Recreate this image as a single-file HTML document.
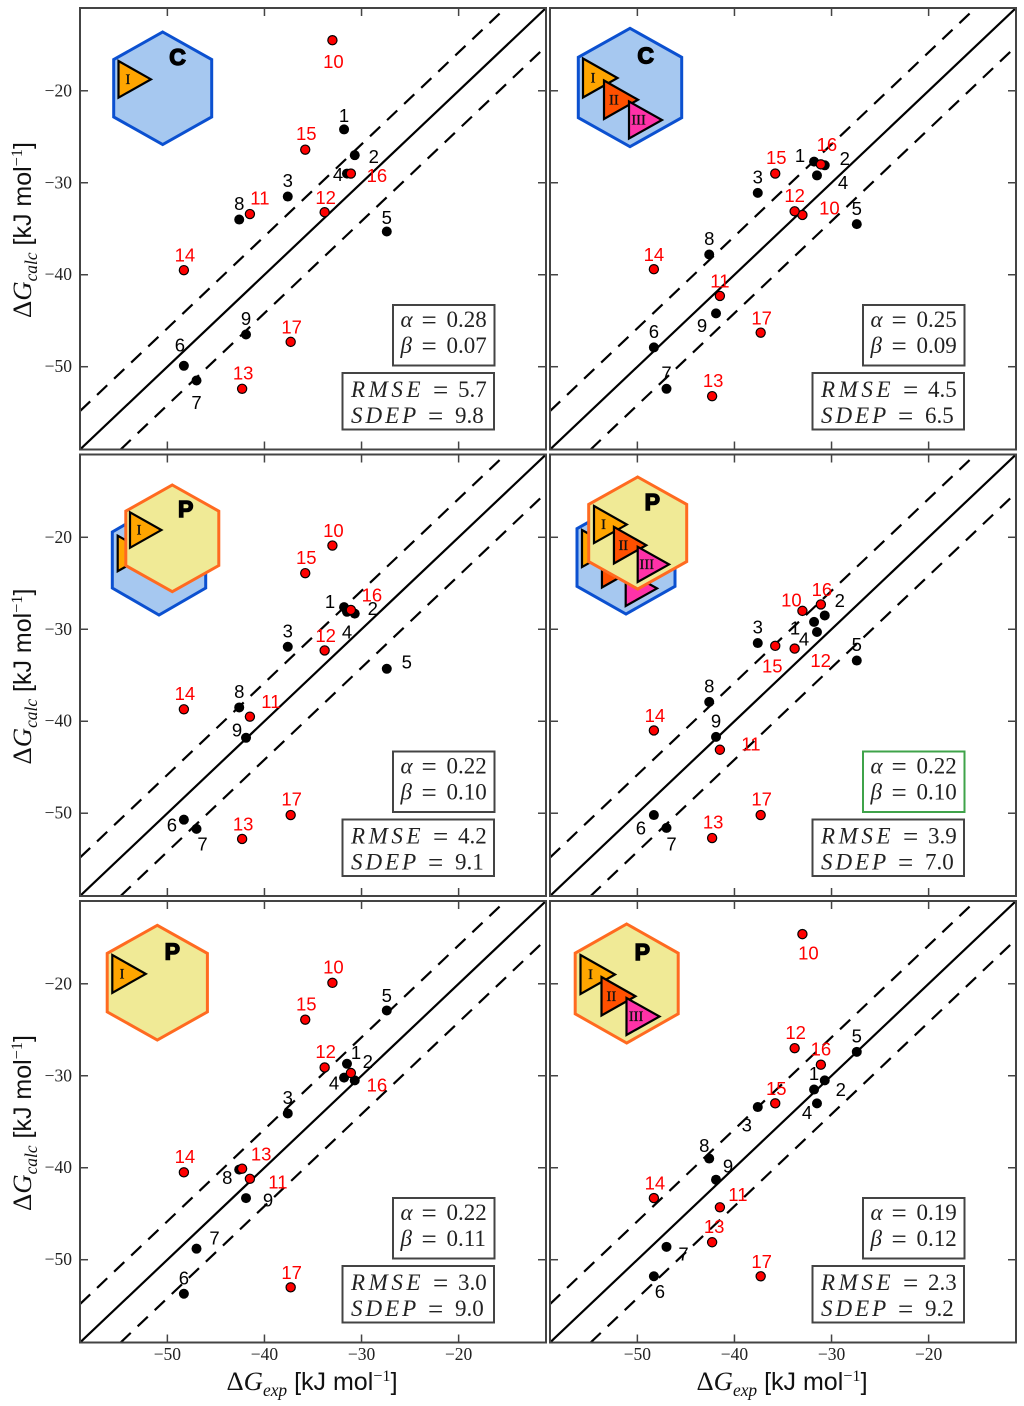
<!DOCTYPE html>
<html>
<head>
<meta charset="utf-8">
<style>
html,body{margin:0;padding:0;background:#fff;}
svg{display:block;}
</style>
</head>
<body>
<svg id="chart" xmlns="http://www.w3.org/2000/svg" width="1024" height="1406" viewBox="0 0 1024 1406"></svg>
<script>
// ---- data ----
const compoundLabels = ['1','2','3','4','5','6','7','8','9','10','11','12','13','14','15','16','17'];
const expValues = [-31.8,-30.7,-37.6,-31.5,-27.4,-48.3,-47.0,-42.6,-41.9,-33.0,-41.5,-33.8,-42.3,-48.3,-35.8,-31.1,-37.3];
const calcPanelA = [-24.2,-27.0,-31.5,-29.0,-35.3,-49.9,-51.5,-34.0,-46.5,-14.5,-33.4,-33.2,-52.4,-39.5,-26.4,-29.0,-47.3];
const calcPanelB = [-27.7,-28.1,-31.1,-29.2,-34.5,-47.9,-52.4,-37.8,-44.2,-33.5,-42.3,-33.1,-53.2,-39.4,-29.0,-28.0,-46.3];
const calcPanelC = [-27.6,-28.3,-31.9,-28.1,-34.3,-50.7,-51.7,-38.5,-41.8,-20.9,-39.5,-32.3,-52.8,-38.7,-23.9,-27.9,-50.2];
const calcPanelD = [-29.2,-28.5,-31.5,-30.3,-33.4,-50.2,-51.6,-37.9,-41.7,-28.0,-43.1,-32.1,-52.7,-41.0,-31.8,-27.3,-50.2];
const calcPanelE = [-30.2,-30.5,-34.1,-28.7,-22.9,-53.7,-48.8,-40.2,-43.3,-19.9,-41.2,-29.1,-40.1,-40.5,-23.9,-29.7,-53.0];
const calcPanelF = [-31.5,-30.5,-33.4,-33.0,-27.4,-51.8,-48.6,-39.0,-41.3,-14.6,-44.3,-27.0,-48.1,-43.3,-33.0,-28.8,-51.8];
const alphaValues = ['0.28','0.25','0.22','0.22','0.22','0.19'];
const betaValues = ['0.07','0.09','0.10','0.10','0.11','0.12'];
const rmseValues = ['5.7','4.5','4.2','3.9','3.0','2.3'];
const sdepValues = ['9.8','6.5','9.1','7.0','9.0','9.2'];
const xTickValues = [-50,-40,-30,-20];
const yTickValues = [-20,-30,-40,-50];
const toleranceBand = 4.18;

// ---- label nudges relative to each point (layout, not data) ----
const nudgeA = [[0,-14],[19,1],[0,-16],[-9,1],[0,-14],[-4,-21],[0,22],[0,-16],[0,-16],[1,21],[10,-16],[1,-15],[1,-16],[1,-15],[1,-16],[26,2],[1,-15]];
const nudgeB = [[-14,-6],[20,-7],[0,-16],[26,7],[0,-16],[0,-16],[0,-16],[0,-16],[-14,12],[27,-7],[0,-15],[0,-16],[1,-16],[0,-15],[1,-16],[6,-20],[1,-15]];
const nudgeC = [[-14,-6],[18,-5],[0,-16],[0,20],[20,-7],[-12,5],[6,15],[0,-16],[-9,-8],[1,-15],[21,-15],[1,-15],[1,-15],[1,-16],[1,-16],[21,-15],[1,-16]];
const nudgeD = [[-19,6],[15,-15],[0,-16],[-13,7],[0,-16],[-13,13],[5,16],[0,-16],[0,-16],[-11,-11],[31,-6],[26,12],[1,-16],[1,-15],[-3,20],[1,-15],[1,-16]];
const nudgeE = [[12,-25],[13,-19],[0,-16],[-13,19],[0,-15],[0,-16],[18,-11],[-12,8],[22,2],[1,-16],[28,3],[1,-16],[19,-15],[1,-16],[1,-16],[26,12],[1,-15]];
const nudgeF = [[0,-16],[16,9],[-11,18],[-10,9],[0,-16],[6,15],[17,7],[-5,-13],[12,-14],[6,19],[18,-13],[1,-16],[2,-16],[1,-15],[1,-15],[0,-16],[1,-15]];

const calcByPanel = [calcPanelA,calcPanelB,calcPanelC,calcPanelD,calcPanelE,calcPanelF];
const nudgeByPanel = [nudgeA,nudgeB,nudgeC,nudgeD,nudgeE,nudgeF];
const panelNames = ['cavity-one-site','cavity-three-sites','pore-cavity-one-site','pore-cavity-three-sites','pore-one-site','pore-three-sites'];

const PLOT_W = 466, PLOT_H = 441.5;
const DOMAIN_MIN = -59, DOMAIN_MAX = -11;
const colLefts = [80, 550];
const rowTops = [8, 454.5, 901];
const SVGNS = 'http://www.w3.org/2000/svg';
const SERIF = '"Liberation Serif", serif';
const SANS = '"Liberation Sans", sans-serif';
const root = document.getElementById('chart');

function xAxis(left, v){ return left + (v - DOMAIN_MIN) * PLOT_W / (DOMAIN_MAX - DOMAIN_MIN); }
function yAxis(top, v){ return top + (DOMAIN_MAX - v) * PLOT_H / (DOMAIN_MAX - DOMAIN_MIN); }

function make(tag, parent, name, props){
  const el = document.createElementNS(SVGNS, tag);
  
  
  for (const k in props) el.setAttribute(k, props[k]);
  parent.appendChild(el);
  return el;
}
function span(parent, text, props){
  const t = document.createElementNS(SVGNS, 'tspan');
  for (const k in props) t.setAttribute(k, props[k]);
  t.textContent = text;
  parent.appendChild(t);
  return t;
}

function hexagon(parent, name, kind, cx, topY, halfW, h){
  const q = h * 0.245;
  const pts = [[cx,topY],[cx+halfW,topY+q],[cx+halfW,topY+h-q],[cx,topY+h],[cx-halfW,topY+h-q],[cx-halfW,topY+q]]
    .map(p => p.join(',')).join(' ');
  make('polygon', parent, name, {
    points: pts,
    fill: kind === 'C' ? '#a6c8f0' : '#f0ea96',
    stroke: kind === 'C' ? '#0b50d0' : '#ff6a20',
    'stroke-width': 3, 'stroke-linejoin': 'miter'
  });
}
function triangle(parent, name, label, color, x, y, w, h, showLabel){
  make('polygon', parent, name, {
    points: [x,y, x+w,y+h*0.5, x,y+h].join(' '),
    fill: color, stroke: '#000', 'stroke-width': 2.2, 'stroke-linejoin': 'miter'
  });
  if (!showLabel) return;
  const t = make('text', parent, name + '-label', {
    x: x + w*0.29, y: y + h*0.5 + 4.7,
    'text-anchor': 'middle', 'font-family': SERIF, 'font-size': 14.5,
    fill: '#111', stroke: '#111', 'stroke-width': 0.35
  });
  t.textContent = label;
}
function letter(parent, name, txt, x, y){
  const t = make('text', parent, name, {
    x: x, y: y, 'text-anchor': 'middle', 'font-family': SANS, 'font-size': 23, 'font-weight': 'bold',
    fill: '#000', stroke: '#000', 'stroke-width': 1.4
  });
  t.textContent = txt;
}
function triSet(parent, prefix, count, x0, y0, s, showLabel){
  triangle(parent, prefix + '-triangle-i', 'I', '#ffa500', x0, y0, 34.5*s, 39*s, showLabel);
  if (count === 3){
    triangle(parent, prefix + '-triangle-ii', 'II', '#ff5000', x0+21*s, y0+22*s, 34*s, 38.5*s, showLabel);
    triangle(parent, prefix + '-triangle-iii', 'III', '#ff32a8', x0+46*s, y0+43*s, 33*s, 37*s, showLabel);
  }
}

function drawInset(i, g){
  if (i === 0){
    hexagon(g, 'cavity-hexagon', 'C', 162.7, 32, 49, 112.5);
    triSet(g, 'cavity', 1, 118.5, 61, 0.94, true);
    letter(g, 'cavity-letter', 'C', 177.5, 65);
  } else if (i === 1){
    hexagon(g, 'cavity-hexagon', 'C', 630, 28.3, 51.7, 118.4);
    triSet(g, 'cavity', 3, 583, 58.5, 1, true);
    letter(g, 'cavity-letter', 'C', 645.7, 63.5);
  } else if (i === 2){
    hexagon(g, 'cavity-hexagon', 'C', 159, 505, 46.7, 110);
    triSet(g, 'cavity-behind', 1, 117.7, 535.7, 0.91, false);
    hexagon(g, 'pore-hexagon', 'P', 172.3, 485, 46.5, 106.7);
    triSet(g, 'pore', 1, 130, 512.3, 0.91, true);
    letter(g, 'pore-letter', 'P', 185.7, 517);
  } else if (i === 3){
    hexagon(g, 'cavity-hexagon', 'C', 626, 501, 49, 113);
    triSet(g, 'cavity-behind', 3, 582, 530, 0.95, false);
    hexagon(g, 'pore-hexagon', 'P', 637.7, 477, 49, 112);
    triSet(g, 'pore', 3, 594, 506, 0.95, true);
    letter(g, 'pore-letter', 'P', 652.3, 510);
  } else if (i === 4){
    hexagon(g, 'pore-hexagon', 'P', 157.3, 925.3, 50.1, 114.7);
    triSet(g, 'pore', 1, 112.3, 955, 0.97, true);
    letter(g, 'pore-letter', 'P', 172.3, 959.3);
  } else {
    hexagon(g, 'pore-hexagon', 'P', 626.7, 924, 51.5, 119);
    triSet(g, 'pore', 3, 580.5, 955, 1, true);
    letter(g, 'pore-letter', 'P', 642.3, 960);
  }
}

function statLine(parent, name, sym, value, x0, eqX, valX, y, spacing){
  const t = make('text', parent, name, {x:x0,y:y,'font-family':SERIF,'font-size':23,fill:'#222'});
  span(t, sym, {'font-style':'italic','letter-spacing':spacing});
  span(t, '=', {x:eqX,'font-size':27,dy:2});
  span(t, value, {x:valX,dy:-2});
}
function drawStats(i, g, left, top){
  const ox = left - 80, oy = top - 8;
  const a = make('g', g, 'alpha-beta-box', {});
  make('rect', a, 'alpha-beta-frame', {
    x: 393+ox, y: 305+oy, width: 101.5, height: 60.5, fill: '#fff',
    stroke: i === 3 ? '#3fa34a' : '#444', 'stroke-width': 2
  });
  statLine(a, 'alpha-value', 'α', alphaValues[i], 400.5+ox, 421.5+ox, 446.5+ox, 327+oy, 0);
  statLine(a, 'beta-value', 'β', betaValues[i], 400.5+ox, 421.5+ox, 446.5+ox, 353+oy, 0);
  const b = make('g', g, 'rmse-sdep-box', {});
  make('rect', b, 'rmse-sdep-frame', {
    x: 342.5+ox, y: 373+oy, width: 151.5, height: 56.5, fill: '#fff', stroke: '#444', 'stroke-width': 2
  });
  statLine(b, 'rmse-value', 'RMSE', rmseValues[i], 351+ox, 433+ox, 458+ox, 397+oy, 3.6);
  statLine(b, 'sdep-value', 'SDEP', sdepValues[i], 351+ox, 428+ox, 455+ox, 423+oy, 3);
}

function titleSpans(t, sub){
  span(t,'Δ',{});
  span(t,'G',{'font-style':'italic'});
  span(t,sub,{'font-style':'italic','font-size':17.4,dy:6});
  span(t,' [kJ mol',{'font-family':SANS,'font-size':25,dy:-6});
  span(t,'−1',{'font-size':16.3,dy:-9});
  span(t,']',{'font-family':SANS,'font-size':25,dy:9});
}
function xLabel(parent, cx, baseY){
  const t = make('text', parent, 'x-axis-title', {x:cx,y:baseY,'text-anchor':'middle','font-family':SERIF,'font-size':26.75,fill:'#111'});
  titleSpans(t, 'exp');
}
function yLabel(parent, baseX, cy){
  const t = make('text', parent, 'y-axis-title', {x:0,y:0,'text-anchor':'middle','font-family':SERIF,'font-size':26.75,fill:'#111',
    transform:'translate('+baseX+','+cy+') rotate(-90)'});
  titleSpans(t, 'calc');
}

const defs = document.createElementNS(SVGNS,'defs');
root.appendChild(defs);

calcByPanel.forEach((calc, i) => {
  const col = i % 2, row = Math.floor(i / 2);
  const left = colLefts[col], top = rowTops[row];
  const right = left + PLOT_W, bottom = top + PLOT_H;
  const X = v => xAxis(left, v), Y = v => yAxis(top, v);
  const panel = make('g', root, 'panel-' + panelNames[i], {});

  const clip = document.createElementNS(SVGNS,'clipPath');
  clip.setAttribute('id','clip'+i);
  const cr = document.createElementNS(SVGNS,'rect');
  cr.setAttribute('x',left);cr.setAttribute('y',top);cr.setAttribute('width',PLOT_W);cr.setAttribute('height',PLOT_H);
  clip.appendChild(cr);
  defs.appendChild(clip);

  const lines = make('g', panel, 'reference-lines', {'clip-path':'url(#clip'+i+')'});
  make('line', lines, 'identity-line', {x1:X(DOMAIN_MIN),y1:Y(DOMAIN_MIN),x2:X(DOMAIN_MAX),y2:Y(DOMAIN_MAX),stroke:'#000','stroke-width':2.2});
  make('line', lines, 'upper-tolerance-line', {x1:X(DOMAIN_MIN),y1:Y(DOMAIN_MIN+toleranceBand),x2:X(DOMAIN_MAX-toleranceBand),y2:Y(DOMAIN_MAX),stroke:'#000','stroke-width':2.2,'stroke-dasharray':'14 9.5'});
  make('line', lines, 'lower-tolerance-line', {x1:X(DOMAIN_MIN+toleranceBand),y1:Y(DOMAIN_MIN),x2:X(DOMAIN_MAX),y2:Y(DOMAIN_MAX-toleranceBand),stroke:'#000','stroke-width':2.2,'stroke-dasharray':'14 9.5'});

  const ticks = make('g', panel, 'ticks', {stroke:'#444','stroke-width':1.5});
  xTickValues.forEach(v => {
    make('line', ticks, 'x-tick-bottom', {x1:X(v),x2:X(v),y1:bottom,y2:bottom-8});
    make('line', ticks, 'x-tick-top', {x1:X(v),x2:X(v),y1:top,y2:top+8});
  });
  yTickValues.forEach(v => {
    make('line', ticks, 'y-tick-left', {x1:left,x2:left+8,y1:Y(v),y2:Y(v)});
    make('line', ticks, 'y-tick-right', {x1:right,x2:right-8,y1:Y(v),y2:Y(v)});
  });
  make('rect', panel, 'plot-frame', {x:left,y:top,width:PLOT_W,height:PLOT_H,fill:'none',stroke:'#444','stroke-width':2});

  const inset = make('g', panel, 'site-schematic', {});
  drawInset(i, inset);
  drawStats(i, panel, left, top);

  const pts = make('g', panel, 'data-points', {});
  calc.forEach((v, k) => {
    const red = k >= 9;
    make('circle', pts, 'point-compound-' + compoundLabels[k], {
      cx: X(expValues[k]), cy: Y(v), r: red ? 4.6 : 5,
      fill: red ? '#ff0000' : '#000', stroke: '#000', 'stroke-width': red ? 1.2 : 0
    });
  });
  const labels = make('g', panel, 'point-labels', {});
  calc.forEach((v, k) => {
    const red = k >= 9;
    const n = nudgeByPanel[i][k];
    const t = make('text', labels, 'label-compound-' + compoundLabels[k], {
      x: X(expValues[k]) + n[0], y: Y(v) + n[1] + 6.6, 'text-anchor':'middle',
      'font-family': SANS, 'font-size': 18.5, fill: red ? '#ff0000' : '#000'
    });
    t.textContent = compoundLabels[k];
  });

  if (col === 0){
    yTickValues.forEach(v => {
      const t = make('text', panel, 'y-tick-label', {x:left-8,y:Y(v)+5.5,'text-anchor':'end','font-family':SERIF,'font-size':17.5,fill:'#222'});
      t.textContent = '−' + Math.abs(v);
    });
    yLabel(panel, 31, top + 222);
  }
  if (row === 2){
    xTickValues.forEach(v => {
      const t = make('text', panel, 'x-tick-label', {x:X(v),y:1360,'text-anchor':'middle','font-family':SERIF,'font-size':17.5,fill:'#222'});
      t.textContent = '−' + Math.abs(v);
    });
    xLabel(panel, left + 232, 1390);
  }
});
</script>
</body>
</html>
